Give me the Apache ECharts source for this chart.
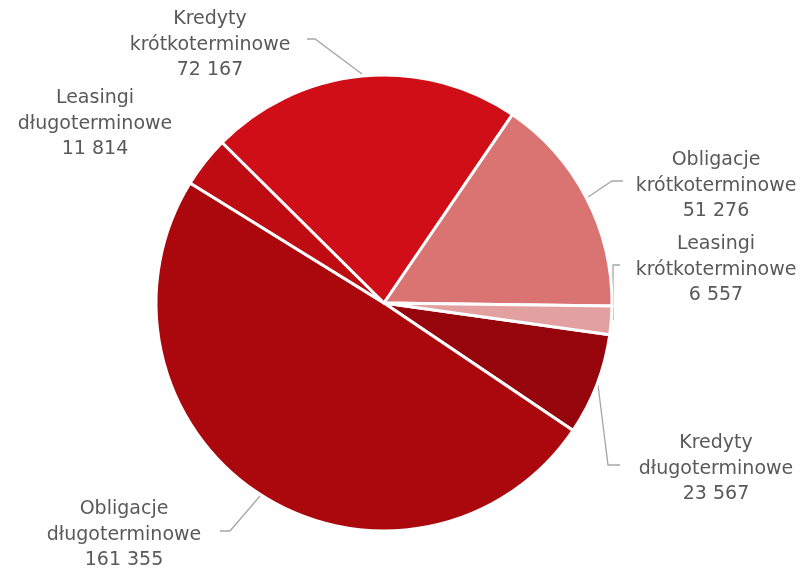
<!DOCTYPE html>
<html><head><meta charset="utf-8">
<script src="https://cdn.jsdelivr.net/npm/echarts@6/dist/echarts.min.js"></script>
<style>html,body{margin:0;padding:0;background:#fff}#c{width:809px;height:574px}</style>
</head><body><div id="c"></div>
<script>
const categories = ['Kredyty długoterminowe','Obligacje długoterminowe','Leasingi długoterminowe','Kredyty krótkoterminowe','Obligacje krótkoterminowe','Leasingi krótkoterminowe'];
const values = [23567, 161355, 11814, 72167, 51276, 6557];
const colors = ['#95050B','#AB080E','#BF0B12','#D00E17','#DA7473','#E3A0A0'];
const labelCenters = [[716,469],[124,535],[95,124],[210,45],[716,186],[716,270]];
const leaderLines = [
  [[598,385],[608,465],[620,465]],
  [[260,496],[230,531],[220,531]],
  null,
  [[362,74],[315,39],[307,39]],
  [[588,197],[612,181],[623,181]],
  [[620,265],[613,265],[613,320]]
];
const fmt = v => String(v).replace(/\B(?=(\d{3})+(?!\d))/g, ' ');
const chart = echarts.init(document.getElementById('c'));
chart.setOption({
  animation:false,
  series:[{
    type:'pie', center:[384,303], radius:228, startAngle:-8, clockwise:true,
    itemStyle:{borderColor:'#fff', borderWidth:3},
    label:{show:true, position:'outside', color:'#595959', fontFamily:'DejaVu Sans', fontSize:19, lineHeight:25.5, align:'center',
      overflow:'none', edgeDistance:0, width:300,
      formatter:p=>p.name.replace(' ','\n')+'\n'+fmt(p.value)},
    labelLine:{show:true, lineStyle:{color:'#A6A6A6', width:1.3}},
    labelLayout:function(p){
      const i=p.dataIndex; const o={x:labelCenters[i][0], y:labelCenters[i][1], align:'center', verticalAlign:'middle'};
      if(leaderLines[i]) o.labelLinePoints=leaderLines[i];
      return o;
    },
    data: categories.map((c,i)=>({name:c, value:values[i], itemStyle:{color:colors[i]}, labelLine:{show: !!leaderLines[i]}}))
  }]
});
</script></body></html>
